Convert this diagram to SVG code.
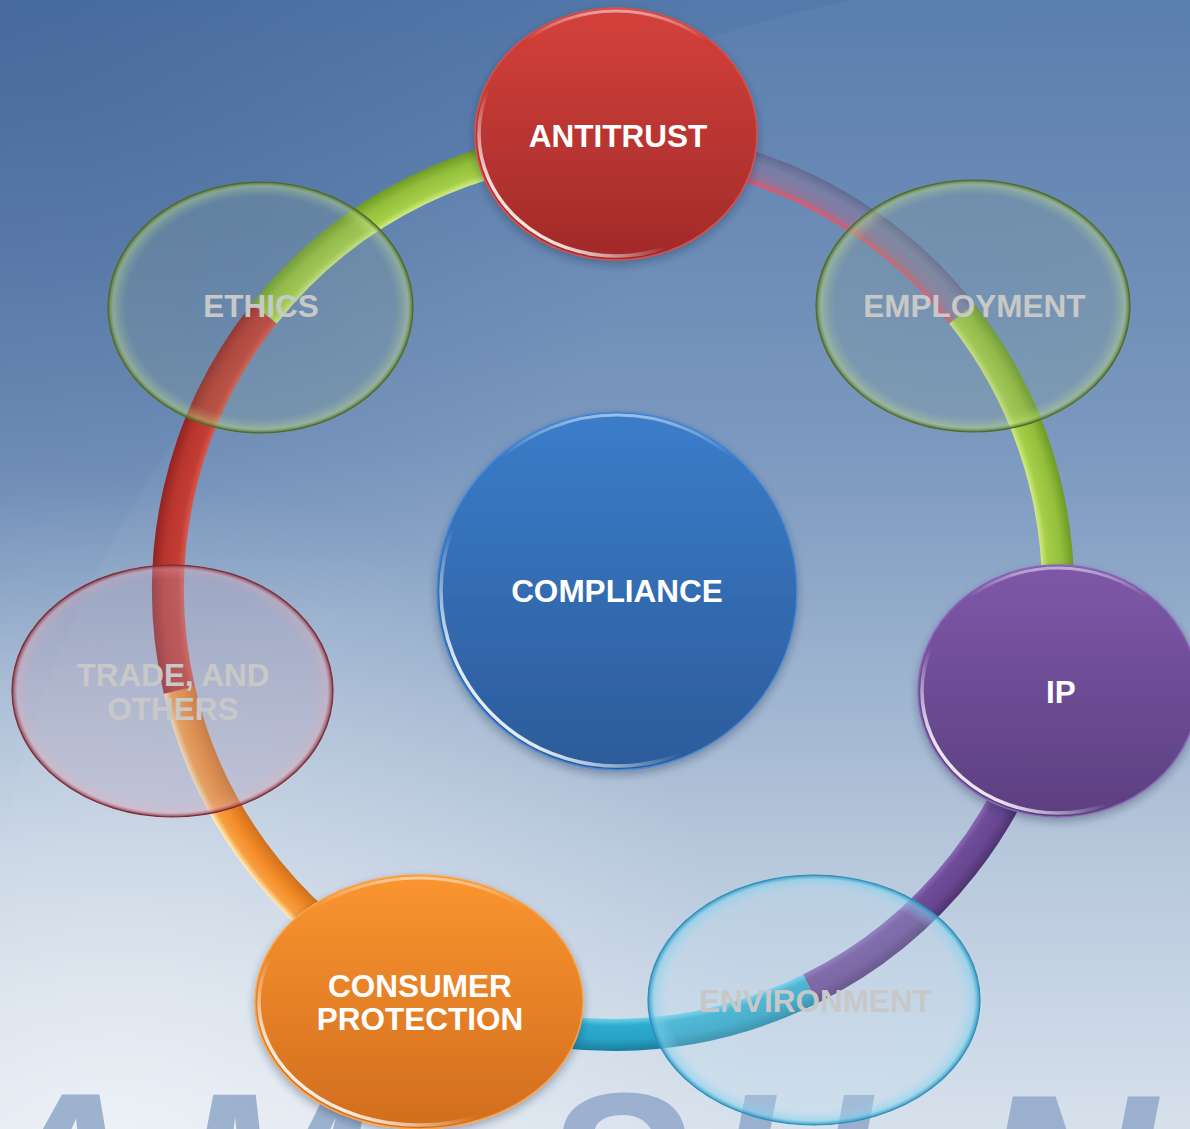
<svg xmlns="http://www.w3.org/2000/svg" width="1190" height="1129" viewBox="0 0 1190 1129">
<defs>
  <linearGradient id="bg" x1="0" y1="0" x2="0" y2="1">
    <stop offset="0" stop-color="#5479aa"/>
    <stop offset="0.4" stop-color="#7795bd"/>
    <stop offset="0.75" stop-color="#b3c5da"/>
    <stop offset="1" stop-color="#d6e0ec"/>
  </linearGradient>
  <radialGradient id="bgDark" cx="0" cy="0" r="700" gradientUnits="userSpaceOnUse">
    <stop offset="0" stop-color="#3c5d90" stop-opacity="0.55"/>
    <stop offset="1" stop-color="#3c5d90" stop-opacity="0"/>
  </radialGradient>
  <radialGradient id="bgLight" cx="120" cy="1129" r="650" gradientUnits="userSpaceOnUse">
    <stop offset="0" stop-color="#ffffff" stop-opacity="0.55"/>
    <stop offset="1" stop-color="#ffffff" stop-opacity="0"/>
  </radialGradient>

  <radialGradient id="rgGreen" cx="613" cy="590" r="461" gradientUnits="userSpaceOnUse">
    <stop offset="0.93" stop-color="#d2ec8a"/>
    <stop offset="0.945" stop-color="#a6cf48"/>
    <stop offset="0.975" stop-color="#93bf3c"/>
    <stop offset="1" stop-color="#6f9a25"/>
  </radialGradient>
  <radialGradient id="rgRed" cx="613" cy="590" r="461" gradientUnits="userSpaceOnUse">
    <stop offset="0.93" stop-color="#d95a50"/>
    <stop offset="0.945" stop-color="#c23d34"/>
    <stop offset="0.975" stop-color="#b8352e"/>
    <stop offset="1" stop-color="#922322"/>
  </radialGradient>
  <radialGradient id="rgOrange" cx="613" cy="590" r="461" gradientUnits="userSpaceOnUse">
    <stop offset="0.93" stop-color="#d0701c"/>
    <stop offset="0.96" stop-color="#f28b28"/>
    <stop offset="0.985" stop-color="#f7a040"/>
    <stop offset="1" stop-color="#fff0c0"/>
  </radialGradient>
  <radialGradient id="rgPurple" cx="613" cy="590" r="461" gradientUnits="userSpaceOnUse">
    <stop offset="0.93" stop-color="#8a6ab5"/>
    <stop offset="0.945" stop-color="#6e4c98"/>
    <stop offset="0.975" stop-color="#684691"/>
    <stop offset="1" stop-color="#4e3370"/>
  </radialGradient>
  <radialGradient id="rgCyan" cx="613" cy="590" r="461" gradientUnits="userSpaceOnUse">
    <stop offset="0.93" stop-color="#6dd2ec"/>
    <stop offset="0.945" stop-color="#2eaccd"/>
    <stop offset="0.975" stop-color="#27a2c4"/>
    <stop offset="1" stop-color="#1a7f9c"/>
  </radialGradient>
  <radialGradient id="rgFade" cx="613" cy="590" r="461" gradientUnits="userSpaceOnUse">
    <stop offset="0.93" stop-color="#ff4a5a" stop-opacity="0.9"/>
    <stop offset="0.945" stop-color="#c85a70" stop-opacity="0.4"/>
    <stop offset="0.975" stop-color="#9a6a8a" stop-opacity="0.3"/>
    <stop offset="1" stop-color="#5a4a6a" stop-opacity="0.5"/>
  </radialGradient>

  <linearGradient id="gRed" x1="0" y1="0" x2="0" y2="1">
    <stop offset="0" stop-color="#d4413b"/>
    <stop offset="1" stop-color="#a12a29"/>
  </linearGradient>
  <linearGradient id="gBlue" x1="0" y1="0" x2="0" y2="1">
    <stop offset="0" stop-color="#3b7dca"/>
    <stop offset="1" stop-color="#2c5b9a"/>
  </linearGradient>
  <linearGradient id="gPurple" x1="0" y1="0" x2="0" y2="1">
    <stop offset="0" stop-color="#7e58a9"/>
    <stop offset="1" stop-color="#5c3f80"/>
  </linearGradient>
  <linearGradient id="gOrange" x1="0" y1="0" x2="0" y2="1">
    <stop offset="0" stop-color="#fa9530"/>
    <stop offset="1" stop-color="#d16d1e"/>
  </linearGradient>

  <linearGradient id="hlBL" x1="0" y1="1" x2="0.55" y2="0.45">
    <stop offset="0" stop-color="#ffffff" stop-opacity="1"/>
    <stop offset="0.3" stop-color="#ffffff" stop-opacity="0.85"/>
    <stop offset="0.65" stop-color="#ffffff" stop-opacity="0"/>
  </linearGradient>
  <linearGradient id="hlTop" x1="0" y1="0" x2="0" y2="1">
    <stop offset="0" stop-color="#ffffff" stop-opacity="0.5"/>
    <stop offset="0.12" stop-color="#ffffff" stop-opacity="0"/>
  </linearGradient>

  <radialGradient id="tGreen" cx="0.5" cy="0.5" r="0.5">
    <stop offset="0" stop-color="#86a098" stop-opacity="0.18"/>
    <stop offset="0.88" stop-color="#90a888" stop-opacity="0.2"/>
    <stop offset="0.965" stop-color="#bedc88" stop-opacity="0.45"/>
    <stop offset="1" stop-color="#4a6624" stop-opacity="0.9"/>
  </radialGradient>
  <radialGradient id="tRed" cx="0.5" cy="0.5" r="0.5">
    <stop offset="0" stop-color="#ad9cb6" stop-opacity="0.3"/>
    <stop offset="0.88" stop-color="#b49eb6" stop-opacity="0.3"/>
    <stop offset="0.965" stop-color="#d8a4b4" stop-opacity="0.45"/>
    <stop offset="1" stop-color="#7e2a36" stop-opacity="0.9"/>
  </radialGradient>
  <radialGradient id="tCyan" cx="0.5" cy="0.5" r="0.5">
    <stop offset="0" stop-color="#c0d8e8" stop-opacity="0.22"/>
    <stop offset="0.88" stop-color="#b8dcee" stop-opacity="0.25"/>
    <stop offset="0.965" stop-color="#86d2ee" stop-opacity="0.6"/>
    <stop offset="1" stop-color="#2a92bd" stop-opacity="0.95"/>
  </radialGradient>

  <filter id="shadow" x="-10%" y="-10%" width="120%" height="125%">
    <feDropShadow dx="0" dy="4" stdDeviation="4" flood-color="#1b2b45" flood-opacity="0.35"/>
  </filter>
</defs>
<style>
  .lbl { font-family: "Liberation Sans", Arial, sans-serif; font-weight: bold; font-size: 31.5px; text-anchor: middle; }
  .solid { fill: #ffffff; }
  .ghost { fill: #c8c8c8; }
  .ring { fill: none; stroke-width: 32; stroke-linecap: butt; }
  .hl1 { fill: none; stroke: url(#hlBL); stroke-width: 3.5; }
  .hl2 { fill: none; stroke: url(#hlTop); stroke-width: 3; }
  .wm { font-family: "Liberation Sans", Arial, sans-serif; font-weight: bold; font-style: italic; font-size: 220px; fill: #93abcb; fill-opacity: 0.9; }
</style>

<g id="background">
  <rect x="0" y="0" width="1190" height="1129" fill="url(#bg)"/>
  <rect x="0" y="0" width="1190" height="1129" fill="url(#bgDark)"/>
  <rect x="0" y="0" width="1190" height="1129" fill="url(#bgLight)"/>
  <circle cx="1060" cy="1060" r="1080" fill="#ffffff" fill-opacity="0.04"/>
  <text class="wm"><tspan x="-18" y="1247">A</tspan><tspan x="180" y="1247">M</tspan><tspan x="540" y="1247">S</tspan><tspan x="712" y="1247">H</tspan><tspan x="975" y="1269" font-size="250">N</tspan></text>
</g>

<g id="connectors">
  <path class="ring" stroke="url(#rgFade)" d="M613,145 A445,445 0 0 1 961.7,313.6"/>
  <path class="ring" stroke="url(#rgGreen)" d="M961.7,313.6 A445,445 0 0 1 1047.1,687.8"/>
  <path class="ring" stroke="url(#rgPurple)" d="M1047.1,687.8 A445,445 0 0 1 810.2,988.9"/>
  <path class="ring" stroke="url(#rgCyan)" d="M810.2,988.9 A445,445 0 0 1 424.9,993.3"/>
  <path class="ring" stroke="url(#rgOrange)" d="M424.9,993.3 A445,445 0 0 1 179.4,690.1"/>
  <path class="ring" stroke="url(#rgRed)" d="M179.4,690.1 A445,445 0 0 1 264.3,313.6"/>
  <path class="ring" stroke="url(#rgGreen)" d="M264.3,313.6 A445,445 0 0 1 613,145"/>
</g>

<g id="node-compliance">
  <ellipse cx="617" cy="591" rx="180" ry="179" fill="url(#gBlue)" stroke="#4a8ad6" stroke-width="1.5" filter="url(#shadow)"/>
  <ellipse class="hl1" cx="617" cy="591" rx="176" ry="175"/>
  <ellipse class="hl2" cx="617" cy="591" rx="177" ry="176"/>
  <text class="lbl solid" x="617" y="602">COMPLIANCE</text>
</g>

<g id="node-antitrust">
  <ellipse cx="616" cy="134" rx="141" ry="126" fill="url(#gRed)" stroke="#d8504a" stroke-width="1.5" filter="url(#shadow)"/>
  <ellipse class="hl1" cx="616" cy="134" rx="137" ry="122"/>
  <ellipse class="hl2" cx="616" cy="134" rx="138" ry="123"/>
  <text class="lbl solid" x="618" y="147">ANTITRUST</text>
</g>

<g id="node-ip">
  <ellipse cx="1058" cy="691" rx="140" ry="126" fill="url(#gPurple)" stroke="#8a66b8" stroke-width="1.5" filter="url(#shadow)"/>
  <ellipse class="hl1" cx="1058" cy="691" rx="136" ry="122"/>
  <ellipse class="hl2" cx="1058" cy="691" rx="137" ry="123"/>
  <text class="lbl solid" x="1061" y="703">IP</text>
</g>

<g id="node-consumer-protection">
  <ellipse cx="419" cy="1002" rx="164" ry="127" fill="url(#gOrange)" stroke="#fba346" stroke-width="1.5" filter="url(#shadow)"/>
  <ellipse class="hl1" cx="419" cy="1002" rx="160" ry="123"/>
  <ellipse class="hl2" cx="419" cy="1002" rx="161" ry="124"/>
  <text class="lbl solid" x="420" y="997">CONSUMER</text>
  <text class="lbl solid" x="420" y="1030">PROTECTION</text>
</g>

<g id="node-ethics">
  <ellipse cx="260.5" cy="307.5" rx="152.5" ry="125.5" fill="url(#tGreen)" stroke="#4f6d27" stroke-width="1.2"/>
  <text class="lbl ghost" x="261" y="317">ETHICS</text>
</g>

<g id="node-employment">
  <ellipse cx="973" cy="306" rx="157" ry="126" fill="url(#tGreen)" stroke="#4f6d27" stroke-width="1.2"/>
  <text class="lbl ghost" x="974.5" y="317">EMPLOYMENT</text>
</g>

<g id="node-trade">
  <ellipse cx="172.5" cy="691" rx="160.5" ry="126" fill="url(#tRed)" stroke="#7e2c36" stroke-width="1.2"/>
  <text class="lbl ghost" x="173" y="686">TRADE, AND</text>
  <text class="lbl ghost" x="173" y="720">OTHERS</text>
</g>

<g id="node-environment">
  <ellipse cx="814" cy="1000" rx="166" ry="125" fill="url(#tCyan)" stroke="#2a8fbb" stroke-width="1.2"/>
  <text class="lbl ghost" x="815.5" y="1012" fill="#c2c2c2">ENVIRONMENT</text>
</g>
</svg>
